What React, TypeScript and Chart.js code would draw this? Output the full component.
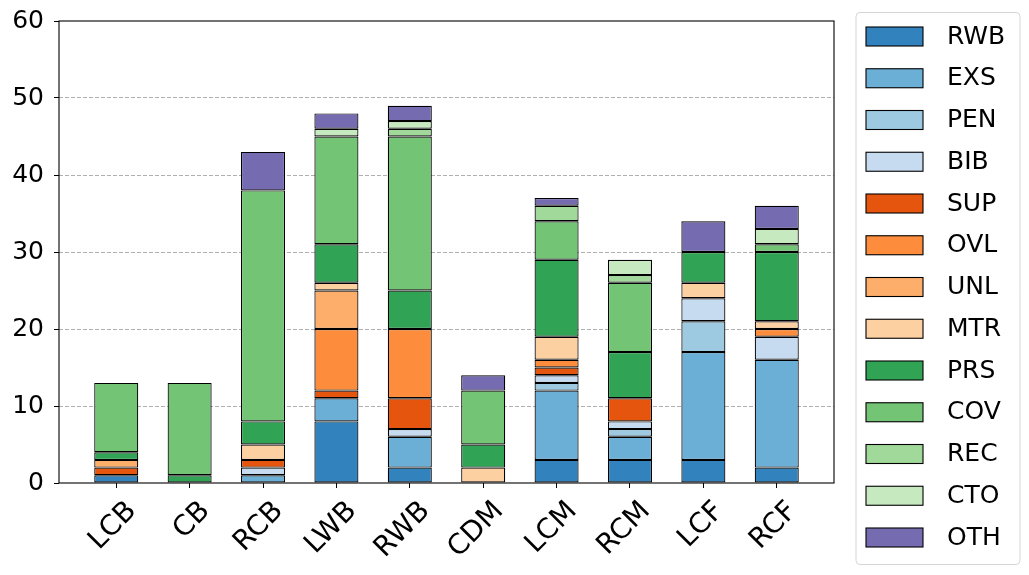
import { useEffect, useRef } from 'react'
import { Chart, registerables } from 'chart.js'

Chart.register(...registerables)

const positions = ['LCB', 'CB', 'RCB', 'LWB', 'RWB', 'CDM', 'LCM', 'RCM', 'LCF', 'RCF']

const rwb = [1, 0, 0, 8, 2, 0, 3, 3, 3, 2]
const exs = [0, 0, 1, 3, 4, 0, 9, 3, 14, 14]
const pen = [0, 0, 0, 0, 0, 0, 1, 1, 4, 0]
const bib = [0, 0, 1, 0, 1, 0, 1, 1, 3, 3]
const sup = [1, 0, 1, 1, 4, 0, 1, 3, 0, 0]
const ovl = [0, 0, 0, 8, 9, 0, 1, 0, 0, 1]
const unl = [1, 0, 0, 5, 0, 0, 0, 0, 0, 0]
const mtr = [0, 0, 2, 1, 0, 2, 3, 0, 2, 1]
const prs = [1, 1, 3, 5, 5, 3, 10, 6, 4, 9]
const cov = [9, 12, 30, 14, 20, 7, 5, 9, 0, 1]
const rec = [0, 0, 0, 0, 1, 0, 2, 1, 0, 0]
const cto = [0, 0, 0, 1, 1, 0, 0, 2, 0, 2]
const oth = [0, 0, 5, 2, 2, 2, 1, 0, 4, 3]

const seriesLabels = ['RWB', 'EXS', 'PEN', 'BIB', 'SUP', 'OVL', 'UNL', 'MTR', 'PRS', 'COV', 'REC', 'CTO', 'OTH']
const seriesValues = [rwb, exs, pen, bib, sup, ovl, unl, mtr, prs, cov, rec, cto, oth]

const yTicks = [0, 10, 20, 30, 40, 50, 60]

// tab20c-ish palette, one per series
const palette = [
  '#3182bd', '#6baed6', '#9ecae1', '#c6dbef',
  '#e6550d', '#fd8d3c', '#fdae6b', '#fdd0a2',
  '#31a354', '#74c476', '#a1d99b', '#c7e9c0',
  '#756bb1',
]

const FONT = "'DejaVu Sans', sans-serif"

// axes frame (all four spines)
const framePlugin = {
  id: 'frame',
  afterDatasetsDraw(chart: Chart) {
    const { ctx, chartArea: a } = chart
    ctx.save()
    ctx.strokeStyle = '#000'
    ctx.lineWidth = 1.1
    ctx.strokeRect(a.left, a.top, a.right - a.left, a.bottom - a.top)
    ctx.restore()
  },
}

// matplotlib style boxed legend on the right
const legendBoxPlugin = {
  id: 'legendBox',
  afterDraw(chart: Chart) {
    const { ctx } = chart
    const left = 856
    const top = 12.5
    const w = 164
    const h = 552
    ctx.save()
    ctx.beginPath()
    ctx.roundRect(left, top, w, h, 4)
    ctx.fillStyle = 'rgba(255,255,255,0.8)'
    ctx.fill()
    ctx.strokeStyle = '#d5d5d5'
    ctx.lineWidth = 1
    ctx.stroke()

    ctx.font = `25px ${FONT}`
    ctx.textBaseline = 'middle'
    ctx.textAlign = 'left'
    chart.data.datasets.forEach((ds, i) => {
      const y = 27 + i * 41.75
      ctx.fillStyle = ds.backgroundColor as string
      ctx.fillRect(866, y, 57, 19)
      ctx.strokeStyle = '#000'
      ctx.lineWidth = 1.1
      ctx.strokeRect(866, y, 57, 19)
      ctx.fillStyle = '#000'
      ctx.fillText(ds.label ?? '', 947, y + 10)
    })
    ctx.restore()
  },
}

export default function App() {
  const canvasRef = useRef<HTMLCanvasElement>(null)

  useEffect(() => {
    document.body.style.margin = '0'
    if (!canvasRef.current) return

    const datasets = seriesLabels.map((label, i) => ({
      label,
      data: seriesValues[i].map((v, j) => ({ x: j, y: v })),
      backgroundColor: palette[i],
      borderColor: '#000',
      borderWidth: 1.2,
      borderSkipped: false as const,
      barPercentage: 0.6,
      categoryPercentage: 1,
    }))

    const chart = new Chart(canvasRef.current, {
      type: 'bar',
      data: { datasets },
      options: {
        animation: false,
        responsive: true,
        maintainAspectRatio: false,
        layout: { padding: { top: 21, right: 195, bottom: 0, left: 0 } },
        plugins: {
          legend: { display: false },
          tooltip: { enabled: false },
        },
        scales: {
          x: {
            type: 'linear',
            stacked: true,
            offset: false,
            min: -0.78,
            max: 9.78,
            afterBuildTicks: (s) => {
              s.ticks = positions.map((_, i) => ({ value: i }))
            },
            afterFit: (s) => {
              s.height = 92
            },
            ticks: {
              autoSkip: false,
              minRotation: 45,
              maxRotation: 45,
              labelOffset: 16,
              padding: 7,
              color: '#000',
              font: { family: FONT, size: 28 },
              callback: (v) => positions[v as number] ?? '',
            },
            grid: {
              offset: false,
              drawOnChartArea: false,
              drawTicks: true,
              tickLength: 5,
              tickColor: '#000',
            },
            border: { display: false },
          },
          y: {
            stacked: true,
            min: 0,
            max: 60,
            afterBuildTicks: (s) => {
              s.ticks = yTicks.map((value) => ({ value }))
            },
            afterFit: (s) => {
              s.width = 59
              s.paddingTop = 0
              s.paddingBottom = 0
            },
            ticks: {
              padding: 10,
              color: '#000',
              font: { family: FONT, size: 25 },
            },
            grid: {
              color: (c) =>
                c.tick && (c.tick.value === 0 || c.tick.value === 60) ? 'rgba(0,0,0,0)' : '#b0b0b0',
              lineWidth: 1,
              drawTicks: true,
              tickLength: 5,
              tickColor: '#000',
              tickBorderDash: [],
            },
            border: { display: false, dash: [4, 2] },
          },
        },
      },
      plugins: [framePlugin, legendBoxPlugin],
    })

    return () => chart.destroy()
  }, [])

  return (
    <div style={{ position: 'relative', width: 1029, height: 575 }}>
      <canvas ref={canvasRef} />
    </div>
  )
}
